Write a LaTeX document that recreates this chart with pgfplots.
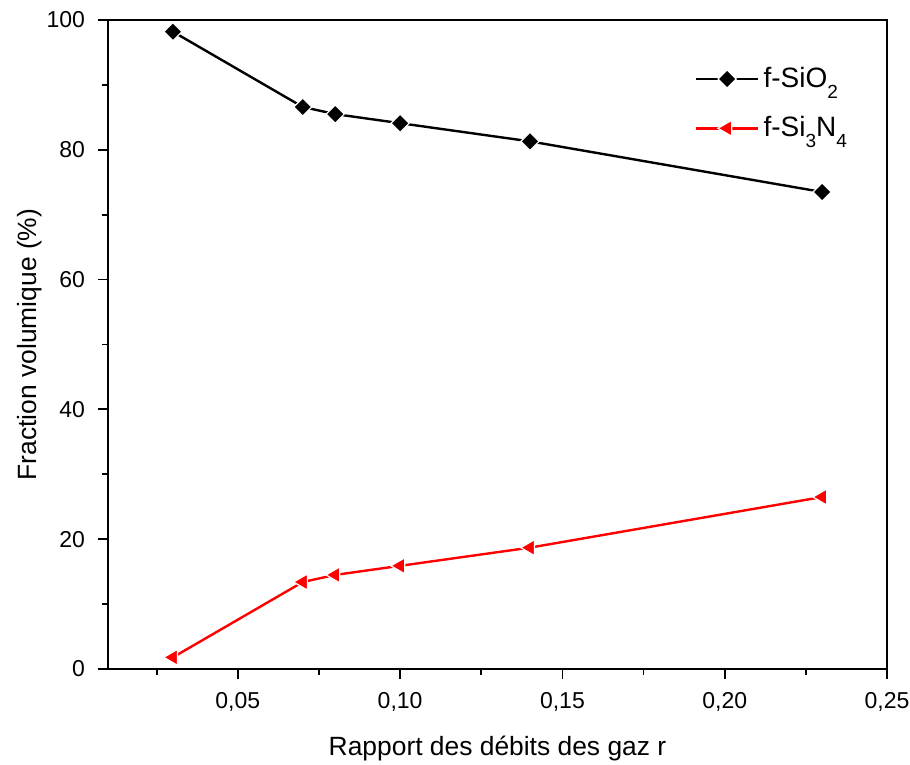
\documentclass[border=0pt]{standalone}
\usepackage{pgfplots}
\pgfplotsset{compat=1.18}
\usepackage{fontspec}
\setmainfont{Liberation Sans}

% lowered subscripts for the legend entries
\newcommand\sub[1]{\raisebox{-5.2pt}{\fontsize{9.5}{10}\selectfont #1}}

\pgfplotstableread{
r     fsio2  fsi3n4
0.03  98.2   1.8
0.07  86.6   13.4
0.08  85.5   14.5
0.10  84.1   15.9
0.14  81.3   18.7
0.23  73.5   26.5
}\fractions

\begin{document}
\begin{tikzpicture}
\pgfplotsset{
  common/.style={
    scale only axis,
    width=389.5pt, height=324.5pt,
    xmin=0.01, xmax=0.25,
    ymin=0, ymax=100,
    axis line style={line width=1pt},
    major tick length=5pt,
    minor tick length=3pt,
    every tick/.style={black, line width=0.9pt},
  },
}
% main axis: bottom and left, ticks pointing outwards
\begin{axis}[
  common,
  name=ax,
  xtick={0.05,0.10,0.15,0.20,0.25},
  minor xtick={0.025,0.075,0.125,0.175,0.225},
  ytick={0,20,40,60,80,100},
  minor ytick={10,30,50,70,90},
  tick align=outside,
  xtick pos=bottom, ytick pos=left,
  /pgf/number format/assume math mode=true,
  xticklabel style={/pgf/number format/fixed, /pgf/number format/fixed zerofill,
    /pgf/number format/precision=2, /pgf/number format/use comma, yshift=-3pt},
  yticklabel style={/pgf/number format/fixed, /pgf/number format/precision=0, xshift=-3pt},
  ticklabel style={font=\fontsize{11.5}{13}\selectfont},
  xlabel={Rapport des débits des gaz r},
  ylabel={Fraction volumique (\%)},
  label style={font=\fontsize{13.2}{16}\selectfont},
  xlabel style={at={(axis description cs:0.5,0)}, anchor=base, yshift=-43pt},
  ylabel style={at={(axis description cs:-0.1,0.5)}, anchor=center},
  legend style={draw=none, fill=none, at={(0.745,0.94)}, anchor=north west,
    font=\fontsize{14}{16}\selectfont, row sep=9pt,
    /tikz/every even column/.append style={column sep=0pt}},
  legend cell align=left,
  legend image code/.code={
    \draw[#1, line width=1.4pt, mark repeat=2, mark phase=2]
      plot coordinates {(0pt,0pt) (15.5pt,0pt) (31pt,0pt)};
  },
]
\addplot[black, line width=1.2pt, mark=square*,
  mark options={rotate=45, fill=black, draw=white, line width=0.6pt}, mark size=3.2pt]
  table[x=r, y=fsio2] {\fractions};
\addlegendentry{f-SiO\sub{2}}
\addplot[red, line width=1.2pt, mark=triangle*,
  mark options={rotate=90, fill=red, draw=white, line width=0.6pt}, mark size=4.6pt]
  table[x=r, y=fsi3n4] {\fractions};
\addlegendentry{f-Si\sub{3}N\sub{4}}
\end{axis}
% mirrored top and right ticks, pointing inwards
\begin{axis}[
  common,
  axis lines=none,
  xtick={0.05,0.10,0.15,0.20,0.25},
  minor xtick={0.025,0.075,0.125,0.175,0.225},
  ytick={0,20,40,60,80,100},
  minor ytick={10,30,50,70,90},
  tick align=inside,
  xtick pos=top, ytick pos=right,
  xticklabels={}, yticklabels={},
]
\addplot[draw=none] coordinates {(0.1,50)};
\draw[line width=1pt] (rel axis cs:0,1) -- (rel axis cs:1,1) -- (rel axis cs:1,0);
\end{axis}
\pgfresetboundingbox
\path ([shift={(-54pt,-48pt)}]ax.south west) rectangle ([shift={(11.5pt,10pt)}]ax.north east);
\end{tikzpicture}
\end{document}
